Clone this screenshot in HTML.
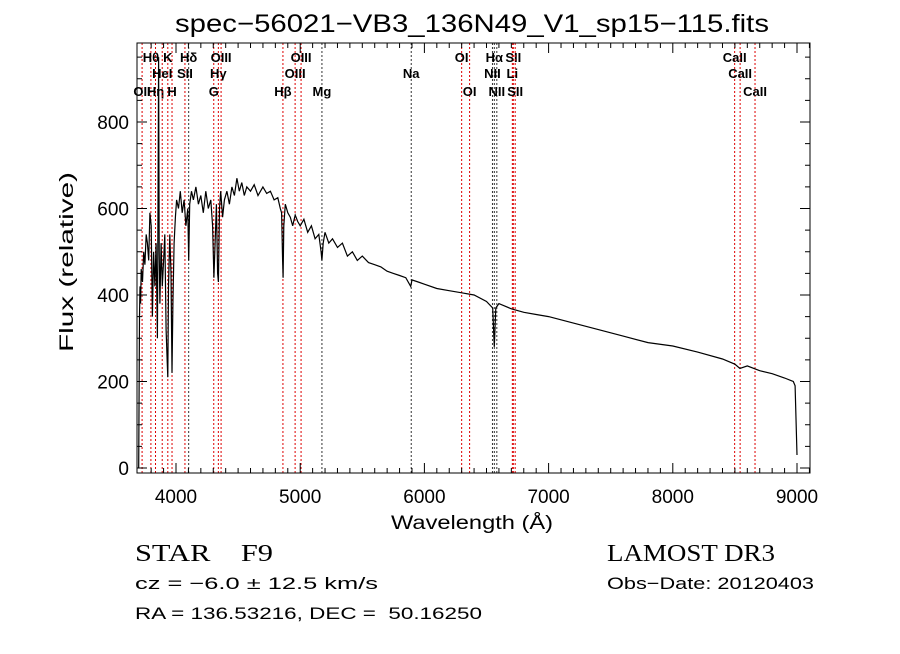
<!DOCTYPE html>
<html><head><meta charset="utf-8"><style>
body{margin:0;background:#fff}
svg text{font-family:"Liberation Sans",sans-serif;fill:#000;white-space:pre}
.s text{font-family:"Liberation Serif",serif}
</style></head><body>
<svg id="c" width="900" height="649" xmlns="http://www.w3.org/2000/svg" xml:space="preserve">
<text x="472" y="32" font-size="25" text-anchor="middle" textLength="594" lengthAdjust="spacingAndGlyphs">spec−56021−VB3_136N49_V1_sp15−115.fits</text>
<text x="472" y="529" font-size="19" text-anchor="middle" textLength="162" lengthAdjust="spacingAndGlyphs">Wavelength (Å)</text>
<text transform="translate(73,262) rotate(-90)" font-size="19" text-anchor="middle" textLength="180" lengthAdjust="spacingAndGlyphs">Flux (relative)</text>
<g class="s">
<text x="135" y="561" font-size="24" textLength="138" lengthAdjust="spacingAndGlyphs">STAR    F9</text>
<text x="607" y="561" font-size="24" textLength="168" lengthAdjust="spacingAndGlyphs">LAMOST DR3</text>
</g>
<text x="135" y="589" font-size="17" textLength="243" lengthAdjust="spacingAndGlyphs">cz = −6.0 ± 12.5 km/s</text>
<text x="607" y="589" font-size="17" textLength="207" lengthAdjust="spacingAndGlyphs">Obs−Date: 20120403</text>
<text x="135" y="619" font-size="17" textLength="347" lengthAdjust="spacingAndGlyphs">RA = 136.53216, DEC =  50.16250</text>
</svg>
<script>
const wave=[3700,3703,3706,3710,3715,3720,3730,3740,3750,3760,3770,3780,3790,3800,3810,3820,3830,3840,3850,3855,3860,3865,3870,3880,3890,3900,3910,3920,3930,3934,3940,3950,3960,3968,3975,3985,3995,4005,4020,4035,4050,4065,4080,4095,4102,4110,4125,4140,4160,4180,4200,4220,4240,4260,4280,4295,4305,4315,4325,4335,4341,4350,4360,4375,4390,4410,4430,4450,4470,4490,4510,4530,4550,4570,4600,4630,4660,4700,4730,4760,4790,4820,4840,4850,4858,4862,4868,4880,4900,4920,4940,4960,4980,5000,5030,5060,5090,5120,5150,5168,5175,5185,5200,5230,5260,5300,5340,5380,5420,5460,5500,5550,5600,5650,5700,5750,5800,5850,5890,5900,5950,6000,6100,6200,6300,6400,6500,6550,6563,6575,6600,6700,6800,6900,7000,7200,7400,7600,7800,8000,8200,8400,8500,8540,8600,8700,8800,8900,8970,8985,9000];
const flux=[0,180,350,420,380,460,430,500,470,540,520,480,590,560,350,500,420,520,300,600,950,500,380,520,420,480,540,320,240,210,420,540,450,220,380,520,580,620,600,640,590,620,560,600,480,610,640,620,650,610,630,590,640,600,620,560,440,520,610,450,430,600,640,580,620,640,610,650,630,670,640,660,630,650,640,655,630,650,635,640,620,625,600,590,480,440,560,610,590,580,560,585,570,560,575,545,560,530,540,500,480,520,545,520,530,510,520,490,500,480,490,475,470,465,455,450,445,440,420,435,430,425,415,410,405,400,385,370,280,370,380,368,360,355,350,335,320,305,290,282,268,252,240,230,236,225,218,208,200,190,30];
const xTicks=[4000,5000,6000,7000,8000,9000];
const yTicks=[0,200,400,600,800];
const lineWaves=[3727,3798,3835,3889,3934,3968,4072,4102,4304,4341,4363,4861,4959,5007,5175,5894,6300,6364,6548,6563,6583,6708,6716,6731,8498,8542,8662];
const lineNames=["OII","Hθ","Hη","HeI","K","H","SII","Hδ","G","Hγ","OIII","Hβ","OIII","OIII","Mg","Na","OI","OI","NII","Hα","NII","Li","SII","SII","CaII","CaII","CaII"];
const lineRows=[2,0,2,1,0,2,1,0,2,1,0,2,1,0,2,1,0,2,1,0,2,1,0,2,0,1,2];
const lineBlack=[0,0,0,0,0,0,0,1,0,0,0,0,0,0,1,1,0,0,1,1,1,0,0,0,0,0,0];
const L=137,R=810,T=43,B=473;
const X=w=>176+(w-4000)*0.1242;
const Y=f=>468-f*0.4325;
const svg=document.getElementById('c');
const NS='http://www.w3.org/2000/svg';
function mk(t,a,p){const e=document.createElementNS(NS,t);for(const k in a)e.setAttribute(k,a[k]);(p||svg).appendChild(e);return e;}
const rows=[62,78,96];
lineWaves.forEach((w,i)=>{
 const l=mk('line',{x1:X(w),x2:X(w),y1:T,y2:B,stroke:lineBlack[i]?'#333':'#d00','stroke-width':1,'stroke-dasharray':'2,2'});
 
 
 const t=mk('text',{x:X(w),y:rows[lineRows[i]],'font-size':13,'text-anchor':'middle','font-family':'Liberation Serif,serif','font-weight':'bold'});
 t.textContent=lineNames[i];
 
 
});
const fr=mk('rect',{x:L,y:T,width:R-L,height:B-T,fill:'none',stroke:'#000','stroke-width':1});


let d='';
for(let w=3800;w<=9100;w+=100){const x=X(w);if(x<L||x>R)continue;const len=(w%1000===0)?10:5;d+=`M${x},${B}v${-len}M${x},${T}v${len}`;}
for(let f=0;f<=950;f+=50){const y=Y(f);if(y<T)continue;const len=(f%200===0)?10:5;d+=`M${L},${y}h${len}M${R},${y}h${-len}`;}
const tk=mk('path',{d:d,stroke:'#000','stroke-width':1,fill:'none'});


xTicks.forEach(v=>{const t=mk('text',{x:X(v),y:503,'font-size':19,'text-anchor':'middle'});t.textContent=v;
 
 });
yTicks.forEach(v=>{const t=mk('text',{x:129,y:Y(v)+7,'font-size':19,'text-anchor':'end'});t.textContent=v;
 
 });
const pts=wave.map((w,i)=>X(w).toFixed(1)+','+Math.max(T,Y(flux[i])).toFixed(1)).join(' ');
const pl=mk('polyline',{points:pts,fill:'none',stroke:'#000','stroke-width':1.2});


</script>
</body></html>
